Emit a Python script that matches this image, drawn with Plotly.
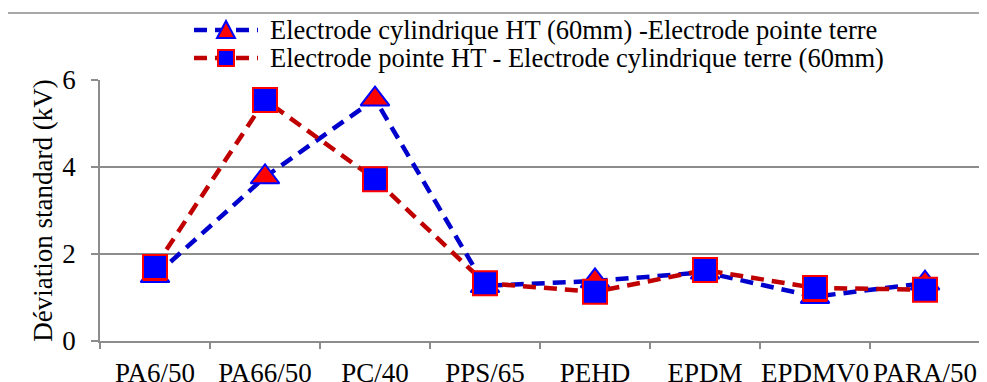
import plotly.graph_objects as go

categories = ["PA6/50", "PA66/50", "PC/40", "PPS/65", "PEHD", "EPDM", "EPDMV0", "PARA/50"]
series1_name = "Electrode cylindrique HT (60mm) -Electrode pointe terre"
series1 = [1.50, 3.77, 5.56, 1.27, 1.38, 1.58, 1.02, 1.33]
series2_name = "Electrode pointe HT - Electrode cylindrique terre (60mm)"
series2 = [1.70, 5.54, 3.72, 1.33, 1.13, 1.63, 1.22, 1.18]
y_ticks = [0, 2, 4, 6]
y_title = "Déviation standard (kV)"

FONT = "Liberation Serif"
GRAY = "#8c8c8c"
FS = 27
LEG_FS = 26.5
BLUE_LINE = "#0000CC"
RED_LINE = "#C00000"
DASH = "13px,8px"

# figure is drawn at an 8px page offset; plot area in figure pixels
W, H = 979, 374
L, T, R, B = 92, 72, 7, 41
PW, PH = W - L - R, H - T - B


def px(fx):
    return (fx - L) / PW


def py(fy):
    return (T + PH - fy) / PH


fig = go.Figure()
fig.add_trace(go.Scatter(
    x=categories, y=series1, name=series1_name, mode="lines+markers",
    line=dict(color=BLUE_LINE, width=4.5, dash=DASH),
    marker=dict(symbol="triangle-up", size=25, color="#FF0000",
                line=dict(color="#0000FF", width=2)),
    showlegend=False,
))
fig.add_trace(go.Scatter(
    x=categories, y=series2, name=series2_name, mode="lines+markers",
    line=dict(color=RED_LINE, width=4.5, dash=DASH),
    marker=dict(symbol="square", size=24, color="#0000FF",
                line=dict(color="#FF0000", width=2)),
    showlegend=False,
))

shapes = [dict(type="rect", xref="paper", yref="paper",
               x0=px(-1), x1=px(W + 20), y0=py(H + 30), y1=py(5),
               line=dict(color=GRAY, width=1.5), fillcolor="rgba(0,0,0,0)",
               layer="below")]
annotations = []

# manual legend
legend_rows = [
    (series1_name, BLUE_LINE, 22, "tri"),
    (series2_name, RED_LINE, 50, "sq"),
]
for name, lc, fy, kind in legend_rows:
    shapes.append(dict(type="line", xref="paper", yref="paper",
                       x0=px(186), x1=px(250), y0=py(fy), y1=py(fy),
                       line=dict(color=lc, width=4.5, dash=DASH)))
    if kind == "tri":
        shapes.append(dict(type="path", xref="paper", yref="paper",
                           xsizemode="pixel", ysizemode="pixel",
                           xanchor=px(218), yanchor=py(fy),
                           path="M -9,-8 L 9,-8 L 0,9 Z",
                           fillcolor="#FF0000", line=dict(color="#0000FF", width=2)))
    else:
        shapes.append(dict(type="rect", xref="paper", yref="paper",
                           xsizemode="pixel", ysizemode="pixel",
                           xanchor=px(218), yanchor=py(fy),
                           x0=-8, x1=8, y0=-8, y1=8,
                           fillcolor="#0000FF", line=dict(color="#FF0000", width=2)))
    annotations.append(dict(text=name, xref="paper", yref="paper",
                            x=px(260), y=py(fy), xanchor="left", yanchor="middle",
                            showarrow=False, font=dict(size=LEG_FS, family=FONT)))

fig.update_layout(
    width=W, height=H,
    margin=dict(l=L, r=R, t=T, b=B, autoexpand=False),
    paper_bgcolor="white", plot_bgcolor="white",
    font=dict(family=FONT, size=FS, color="black"),
    showlegend=False,
    xaxis=dict(type="category", showgrid=False, showline=True, linecolor=GRAY,
               linewidth=1.5, ticks="outside", tickson="boundaries", ticklen=6,
               tickcolor=GRAY, tickwidth=1.5, tickfont=dict(size=FS, family=FONT),
               tickangle=0, ticklabelstandoff=7,
               range=[-0.5, len(categories) - 0.5]),
    yaxis=dict(range=[0, 6], tickvals=y_ticks, showgrid=True, gridcolor=GRAY,
               gridwidth=1.5, showline=True, linecolor=GRAY, linewidth=1.5,
               ticks="outside", ticklen=7, tickcolor=GRAY, tickwidth=1.5,
               zeroline=False, ticklabelstandoff=10,
               tickfont=dict(size=FS, family=FONT),
               title=dict(text=y_title, font=dict(size=FS, family=FONT), standoff=2)),
    shapes=shapes,
    annotations=annotations,
)

fig.write_html("out.html")
